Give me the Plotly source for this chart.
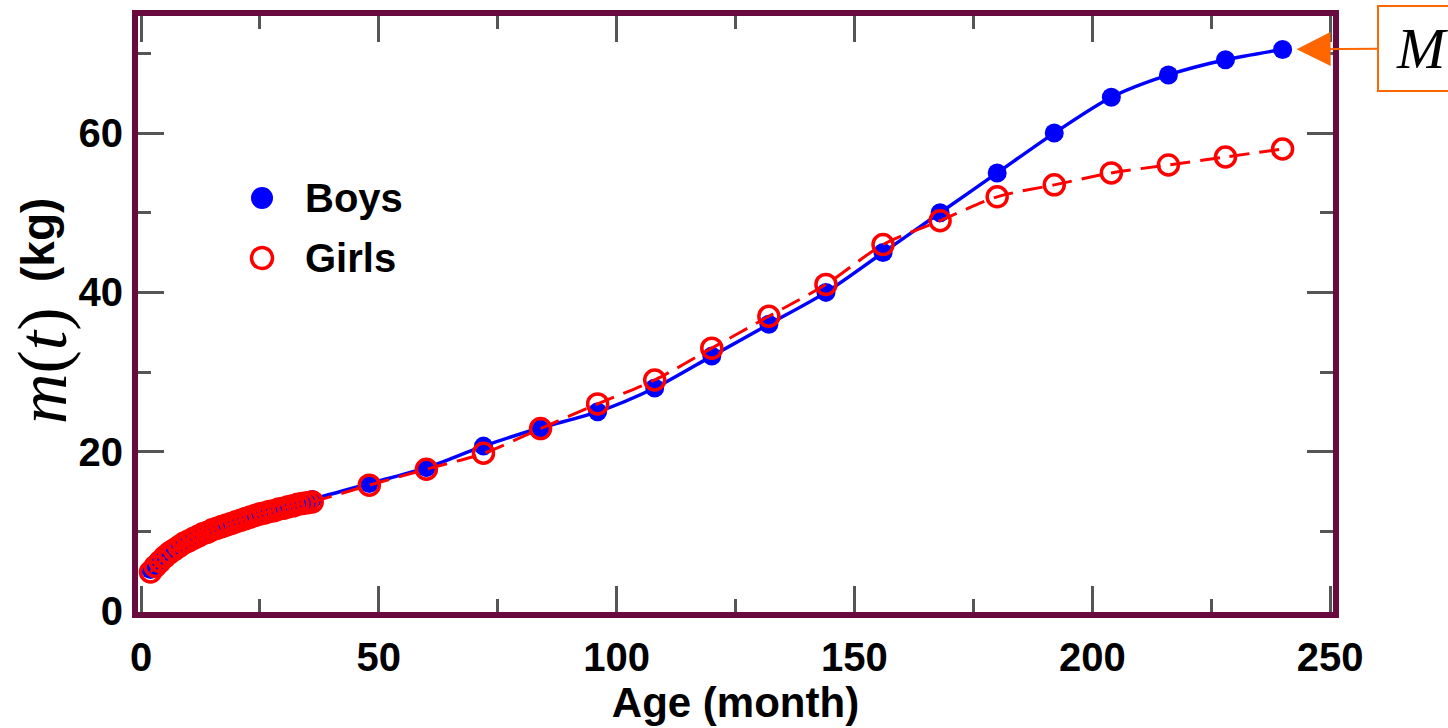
import plotly.graph_objects as go

# ---------------- data ----------------
months = [2, 3, 4, 5, 6, 7, 8, 9, 10, 11, 12, 13, 14, 15, 16, 17, 18, 19, 20,
          21, 22, 23, 24, 25, 26, 27, 28, 29, 30, 31, 32, 33, 34, 35, 36,
          48, 60, 72, 84, 96, 108, 120, 132, 144, 156, 168, 180, 192, 204, 216, 228, 240]

boys_kg = [5.2, 5.9, 6.5, 7.0, 7.5, 7.9, 8.3, 8.6, 8.9, 9.2, 9.5, 9.8, 10.0, 10.3, 10.5,
           10.7, 10.9, 11.1, 11.3, 11.5, 11.7, 11.9, 12.1, 12.3, 12.5, 12.6, 12.8, 12.9,
           13.1, 13.2, 13.4, 13.5, 13.7, 13.8, 14.0,
           16.0, 18.0, 20.7, 23.0, 25.0, 28.0, 32.0, 36.0, 40.0, 45.0, 50.0, 55.0, 60.0,
           64.5, 67.3, 69.2, 70.5]

girls_kg = [4.9, 5.6, 6.2, 6.8, 7.3, 7.7, 8.1, 8.5, 8.8, 9.1, 9.4, 9.7, 9.9, 10.2, 10.4,
            10.6, 10.8, 11.0, 11.2, 11.4, 11.6, 11.8, 12.0, 12.2, 12.3, 12.5, 12.6, 12.8,
            12.9, 13.1, 13.2, 13.4, 13.5, 13.6, 13.7,
            15.8, 17.8, 19.8, 22.9, 26.0, 29.0, 33.0, 37.0, 41.0, 46.0, 49.0, 52.0, 53.5,
            55.0, 56.0, 57.0, 58.0]

x_ticks = [0, 50, 100, 150, 200, 250]
y_ticks = [0, 20, 40, 60]
series_names = ["Boys", "Girls"]
y_label_sym = "<i>m</i>(<i>t</i>)"
y_label_unit = "(kg)"
x_label = "Age (month)"
marker_label = "<i>M</i>"

# ---------------- layout helpers ----------------
W, H = 1448, 728
L, R, T, B = 138, 115, 16, 116
PW, PH = W - L - R, H - T - B

def px(xp):
    return (xp - L) / PW

def py(yp):
    return (H - B - yp) / PH

FRAME = "#690B3E"
TICK = "#555555"
ORANGE = "#FF6600"
SANS = "Liberation Sans"
SERIF = "Liberation Serif"

fig = go.Figure()

fig.add_trace(go.Scatter(
    x=months, y=boys_kg, name=series_names[0], mode="lines+markers",
    line=dict(color="#0000FF", width=3.5, shape="spline", smoothing=0.8),
    marker=dict(color="#0000FF", size=19, symbol="circle"),
    showlegend=False))

fig.add_trace(go.Scatter(
    x=months, y=girls_kg, name=series_names[1], mode="lines+markers",
    line=dict(color="#FF0000", width=3, shape="spline", smoothing=0.8, dash="20px,10px"),
    marker=dict(color="#FF0000", size=20, symbol="circle-open", line=dict(width=3.5)),
    showlegend=False))

axis_common = dict(
    showgrid=False, zeroline=False, showline=True, linewidth=6, linecolor=FRAME,
    mirror="allticks", ticks="inside", ticklen=26, tickwidth=2.5, tickcolor=TICK,
    tickfont=dict(family=SANS, size=40, color="black", weight="bold"),
    automargin=False,
)

fig.update_xaxes(
    range=[-0.63, 250.6], tickmode="array", tickvals=x_ticks,
    ticktext=[str(v) for v in x_ticks],
    minor=dict(dtick=25, tick0=0, ticks="inside", ticklen=13, tickwidth=2.5,
               tickcolor=TICK, showgrid=False),
    title=dict(text=x_label, font=dict(family=SANS, size=42, color="black", weight="bold"),
               standoff=12),
    ticklabelstandoff=5,
    **axis_common)

fig.update_yaxes(
    range=[-0.125, 74.7], tickmode="array", tickvals=y_ticks,
    ticktext=[str(v) for v in y_ticks],
    minor=dict(dtick=10, tick0=0, ticks="inside", ticklen=13, tickwidth=2.5,
               tickcolor=TICK, showgrid=False),
    ticklabelstandoff=1,
    **axis_common)

annotations = []
# y-axis title (two parts)
annotations.append(dict(
    text=y_label_sym, xref="paper", yref="paper", x=px(42), y=py(366),
    showarrow=False, textangle=-90, xanchor="center", yanchor="middle",
    font=dict(family=SERIF, size=70, color="black")))
annotations.append(dict(
    text=y_label_unit, xref="paper", yref="paper", x=px(38), y=py(240),
    showarrow=False, textangle=-90, xanchor="center", yanchor="middle",
    font=dict(family=SANS, size=46, color="black", weight="bold")))

# legend texts
for name, yy in zip(series_names, [198, 258]):
    annotations.append(dict(
        text=name, xref="paper", yref="paper", x=px(303), y=py(yy),
        showarrow=False, xanchor="left", yanchor="middle",
        font=dict(family=SANS, size=40, color="black", weight="bold")))

# M label with arrow to last boys point
annotations.append(dict(
    text=marker_label, xref="x", yref="y", x=months[-1], y=boys_kg[-1],
    axref="pixel", ayref="pixel", ax=139, ay=-1,
    showarrow=True, arrowhead=2, arrowsize=3.4, arrowwidth=2, arrowcolor=ORANGE,
    standoff=14, bordercolor=ORANGE, borderwidth=2, borderpad=2,
    width=82, height=79, align="center", valign="middle",
    font=dict(family=SERIF, size=58, color="black")))

shapes = []
# legend symbols
shapes.append(dict(type="circle", xref="paper", yref="paper", xsizemode="pixel",
                   ysizemode="pixel", xanchor=px(262), yanchor=py(198),
                   x0=-11, x1=11, y0=-11, y1=11, fillcolor="#0000FF",
                   line=dict(width=0)))
shapes.append(dict(type="circle", xref="paper", yref="paper", xsizemode="pixel",
                   ysizemode="pixel", xanchor=px(262), yanchor=py(258),
                   x0=-10.5, x1=10.5, y0=-10.5, y1=10.5, fillcolor="rgba(0,0,0,0)",
                   line=dict(width=3.5, color="#FF0000")))

fig.update_layout(
    width=W, height=H, margin=dict(l=L, r=R, t=T, b=B),
    paper_bgcolor="white", plot_bgcolor="white",
    annotations=annotations, shapes=shapes, showlegend=False)

fig.write_html("out.html")
